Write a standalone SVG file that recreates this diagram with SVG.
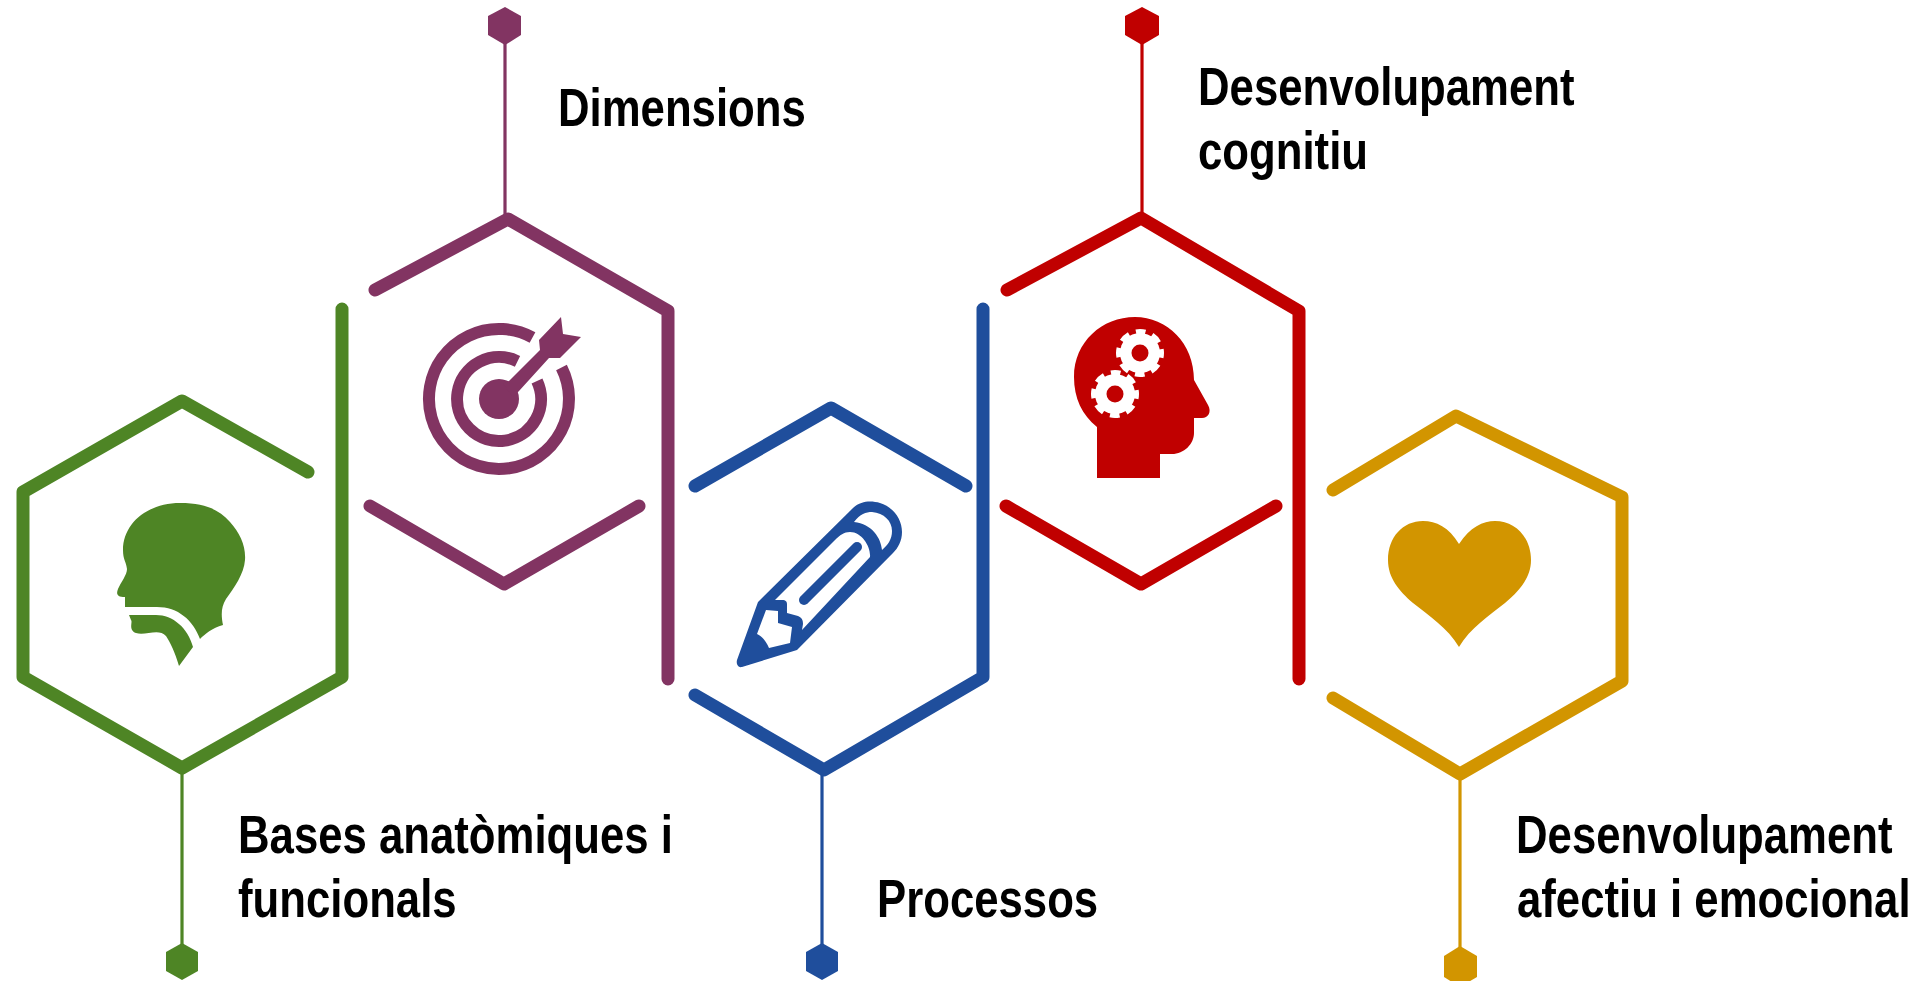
<svg xmlns="http://www.w3.org/2000/svg" width="1923" height="981" viewBox="0 0 1923 981">
<style>
.h{fill:none;stroke-width:13;stroke-linecap:round;stroke-linejoin:round}
.l{fill:none;stroke-width:3.2}
.t{font-family:"Liberation Sans",Arial,sans-serif;font-weight:700;font-size:53px;fill:#000}
.g{fill:#4e8525}.gs{stroke:#4e8525}
.p{fill:#823462}.ps{stroke:#823462}
.b{fill:#1f4e9c}.bs{stroke:#1f4e9c}
.r{fill:#c00000}.rs{stroke:#c00000}
.y{fill:#d29500}.ys{stroke:#d29500}
.gear{fill:none;stroke:#fff;stroke-width:6;stroke-dasharray:9.5 7;stroke-dashoffset:4.75}
</style>
<rect width="1923" height="981" fill="#fff"/>
<g id="connectors">
<path class="l gs" d="M182 772V950"/>
<path class="l ps" d="M505 30V215"/>
<path class="l bs" d="M822 772V950"/>
<path class="l rs" d="M1142 30V215"/>
<path class="l ys" d="M1460 772V950"/>
</g>
<g id="node-bases">
<path class="h gs" d="M308 472L182 401L23 492V677L182 768L342 677V309"/>
<path class="g" d="M180 503C205 503 218 509 230 522C240 533 246 546 245 560C244 574 234 588 226 599C221 607 221 615 223 625C212 628 205 634 200 639C193 620 178 607 157 607H125V597C117 597 116 594 118 589C121 582 127 575 127 569C126 561 123 560 123 550C123 523 148 503 180 503Z"/>
<path class="g" d="M129 615H156C173 615 188 628 193 647L179 666C175 652 170 642 166 636C159 628 145 636 136 633C128 630 133 622 131 620Z"/>
<polygon class="g" points="182,943 198,952 198,971 182,980 166,971 166,952"/>
<text class="t" transform="translate(238 853) scale(.825 1)">Bases anatòmiques i</text>
<text class="t" transform="translate(238 917) scale(.825 1)">funcionals</text>
</g>
<g id="node-dimensions">
<path class="h ps" d="M375 290L508 219L668 311V679"/>
<path class="h ps" d="M370 506L504 584L639 506"/>
<path d="M532.5 337.5A70 70 0 1 0 561.5 367.5" fill="none" stroke="#823462" stroke-width="12"/>
<path d="M517.5 361.3A42 42 0 1 0 537 381" fill="none" stroke="#823462" stroke-width="12"/>
<circle class="p" cx="499" cy="399" r="20"/>
<path class="p" d="M503 384L509 381L540 350L539 340L561 317L563 334L581 337L560 358L549 358L519 391L513 397Z"/>
<polygon class="p" points="505,7 521,16 521,35 505,45 488,35 488,16"/>
<text class="t" transform="translate(558 126) scale(.825 1)">Dimensions</text>
</g>
<g id="node-processos">
<path class="h bs" d="M695 486L831 408L966 486"/>
<path class="h bs" d="M695 695L824 770L983 677V309"/>
<path class="b" fill-rule="evenodd" d="M737 660L758 602L853 508C862 500 872 501 880 503C893 507 902 519 902 532C902 541 898 548 893 553L797 650L742 667C738 668 736 664 737 660ZM775 600L782 600C786 600 787 602 787 604V613L798 616C802 618 803 620 803 624L802 630L870 557C871 547 862 532 850 532C844 532 840 535 835 540ZM854 522C860 514 866 512 872 512C884 513 892 521 892 531C892 539 888 545 882 550C881 538 872 524 854 522ZM766 610L778 611V623L792 627L790 643L769 648C766 641 762 636 757 634Z"/>
<path d="M804 600L857 547" stroke="#1f4e9c" stroke-width="10" stroke-linecap="round" fill="none"/>
<polygon class="b" points="822,943 838,952 838,971 822,980 806,971 806,952"/>
<text class="t" transform="translate(877 917) scale(.825 1)">Processos</text>
</g>
<g id="node-cognitiu">
<path class="h rs" d="M1007 290L1141 218L1299 311V679"/>
<path class="h rs" d="M1006 506L1141 584L1276 506"/>
<path class="r" d="M1097 478V427C1082 415 1074 398 1074 377C1074 342 1102 317 1135 317C1167 317 1194 343 1194 380L1208 405C1212 412 1208 418 1202 418H1194V433C1194 444 1184 454 1172 454H1160V478Z"/>
<circle cx="1140" cy="353" r="20" fill="#fff"/>
<circle cx="1115" cy="394" r="20" fill="#fff"/>
<circle class="gear" cx="1140" cy="353" r="21"/>
<circle class="gear" cx="1115" cy="394" r="21"/>
<circle class="r" cx="1140" cy="353" r="8.5"/>
<circle class="r" cx="1115" cy="394" r="8.5"/>
<polygon class="r" points="1142,7 1159,16 1159,35 1142,45 1125,35 1125,16"/>
<text class="t" transform="translate(1198 105) scale(.825 1)">Desenvolupament</text>
<text class="t" transform="translate(1198 169) scale(.825 1)">cognitiu</text>
</g>
<g id="node-afectiu">
<path class="h ys" d="M1333 490L1456 416L1622 497V681L1460 774L1333 698"/>
<path class="y" d="M1459 544C1470 527 1483 521 1495 521C1515 521 1531 537 1531 560C1531 578 1519 591 1505 603C1490 615 1470 628 1459 647C1448 628 1428 615 1413 603C1399 591 1388 578 1388 560C1388 537 1403 521 1423 521C1436 521 1449 527 1459 544Z"/>
<polygon class="y" points="1460,946 1477,956 1477,977 1460,987 1444,977 1444,956"/>
<text class="t" transform="translate(1516 853) scale(.825 1)">Desenvolupament</text>
<text class="t" transform="translate(1517 917) scale(.825 1)">afectiu i emocional</text>
</g>
</svg>
